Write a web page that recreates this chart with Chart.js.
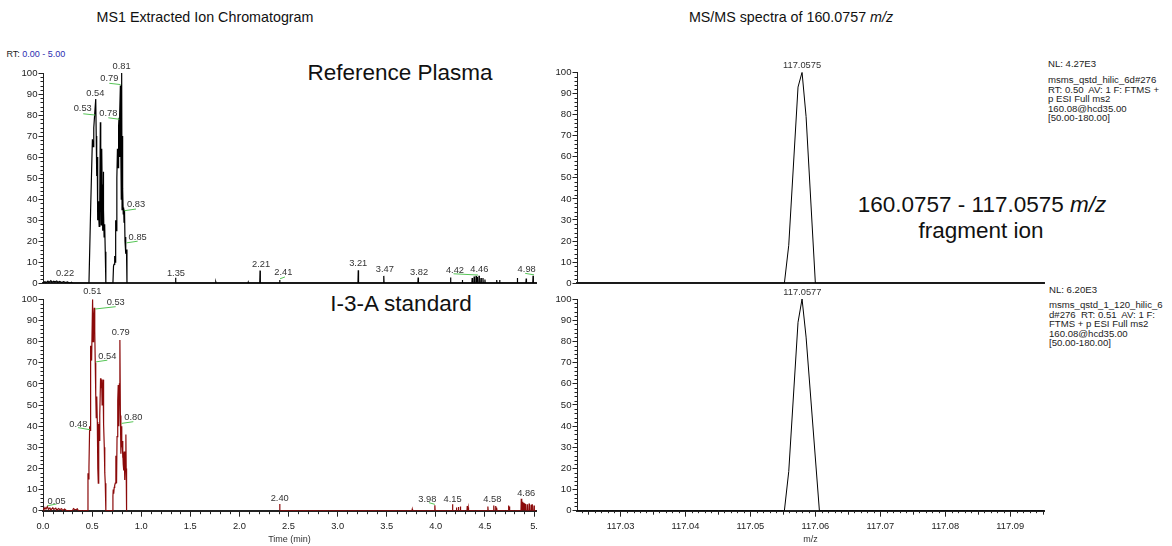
<!DOCTYPE html>
<html><head><meta charset="utf-8">
<script src="https://cdn.jsdelivr.net/npm/chart.js@4.4.1/dist/chart.umd.min.js"></script>
<style>
body{margin:0;width:1172px;height:546px;overflow:hidden;background:#fff;position:relative;font-family:"Liberation Sans",Arial,Helvetica,sans-serif}
canvas{position:absolute}
.t{position:absolute;white-space:nowrap;color:#111;line-height:1}
.c{transform:translate(-50%,-50%)}
.nl{position:absolute;white-space:nowrap;color:#222;font-size:9.6px;line-height:1;transform:translateY(-50%)}
</style></head><body>

<div class="t c" style="left:205px;top:17px;font-size:14.3px">MS1 Extracted Ion Chromatogram</div>
<div class="t c" style="left:791px;top:17px;font-size:14.3px">MS/MS spectra of 160.0757 <i>m/z</i></div>
<div class="t" style="left:6.5px;top:54px;font-size:9px;transform:translateY(-50%);color:#222">RT: <span style="color:#2b2bb0">0.00 - 5.00</span></div>
<div class="t c" style="left:400px;top:73px;font-size:22.5px">Reference Plasma</div>
<div class="t c" style="left:401px;top:304px;font-size:22.5px">I-3-A standard</div>
<div class="t c" style="left:982px;top:205px;font-size:22.5px">160.0757 - 117.0575 <i>m/z</i></div>
<div class="t c" style="left:981px;top:231px;font-size:22.5px">fragment ion</div>

<div class="nl" style="left:1048px;top:64px">NL: 4.27E3</div>
<div class="nl" style="left:1048px;top:80px">msms_qstd_hilic_6d#276</div>
<div class="nl" style="left:1048px;top:89.5px">RT: 0.50&nbsp; AV: 1 F: FTMS +</div>
<div class="nl" style="left:1048px;top:99px">p ESI Full ms2</div>
<div class="nl" style="left:1048px;top:108.5px">160.08@hcd35.00</div>
<div class="nl" style="left:1048px;top:118px">[50.00-180.00]</div>

<div class="nl" style="left:1049px;top:290px">NL: 6.20E3</div>
<div class="nl" style="left:1049px;top:305px">msms_qstd_1_120_hilic_6</div>
<div class="nl" style="left:1049px;top:314.5px">d#276&nbsp; RT: 0.51&nbsp; AV: 1 F:</div>
<div class="nl" style="left:1049px;top:324px">FTMS + p ESI Full ms2</div>
<div class="nl" style="left:1049px;top:333.5px">160.08@hcd35.00</div>
<div class="nl" style="left:1049px;top:343px">[50.00-180.00]</div>

<canvas id="tl" width="545" height="250" style="left:0;top:40px;width:545px;height:250px"></canvas>
<canvas id="bl" width="545" height="266" style="left:0;top:280px;width:545px;height:266px"></canvas>
<canvas id="tr" width="627" height="250" style="left:545px;top:40px;width:627px;height:250px"></canvas>
<canvas id="br" width="627" height="266" style="left:545px;top:280px;width:627px;height:266px"></canvas>

<script>
// ---------------- DATA ----------------
// Relative abundance ticks
const yTicks = [0,10,20,30,40,50,60,70,80,90,100];
// Retention-time axis
const timeTicks = [0,0.5,1,1.5,2,2.5,3,3.5,4,4.5,5];
const timeTickLabels = ['0.0','0.5','1.0','1.5','2.0','2.5','3.0','3.5','4.0','4.5','5.'];
// m/z axis
const mzTicks = [117.03,117.04,117.05,117.06,117.07,117.08,117.09];
const mzTickLabels = ['117.03','117.04','117.05','117.06','117.07','117.08','117.09'];

// Reference plasma XIC (time min, relative abundance %)
const plasmaTime = [0.00,0.02,0.03,0.05,0.06,0.08,0.09,0.11,0.12,0.14,0.15,0.17,0.19,0.21,0.23,0.25,0.27,0.29,0.30,
  0.468,0.485,0.503,0.510,0.517,0.527,0.537,0.542,0.547,0.552,0.557,0.562,0.566,0.572,0.578,0.584,0.588,0.592,0.596,0.600,
  0.604,0.608,0.611,0.614,0.618,0.622,0.628,0.634,0.640,
  0.712,0.718,0.723,0.730,0.735,0.740,0.745,0.752,0.758,0.765,0.770,0.774,0.778,0.783,0.788,0.793,0.797,0.801,0.805,0.809,
  0.813,0.817,0.821,0.825,0.830,0.835,0.840,0.845,0.850,0.855];
const plasmaInt = [0,0.8,0.3,1.0,0.4,1.2,0.5,1.0,0.6,1.1,0.4,0.9,0.3,0.8,0.3,0.6,0,0.5,0,
  0,35,68.5,65,74,81,87.6,70,51,60,30,39,33,27,40,76.6,45,27.7,45,64,
  40,25,47,53,35,22,28,15,0,
  0,8,9,13,10,30,25,50,64,55,75,78.7,60,80,94,60,40,100,35,70,
  45,33,36,29,35,20,22,14,16,0];
// Small late-eluting sticks (time, %)
const plasmaStickTime = [1.35,1.76,2.09,2.21,2.41,3.21,3.47,3.82,4.15,4.27,4.37,4.39,4.41,4.42,4.44,4.46,4.48,4.50,4.62,4.65,4.83,4.92,4.99];
const plasmaStickInt  = [2.6,0.5,0.5,6.0,1.5,6.2,3.5,2.7,2.7,1.5,2.5,3.2,3.5,3.0,3.6,2.5,2.5,1.8,1.5,1.5,2.5,2.2,3.6];

// I-3-A standard XIC
const stdTime = [0.00,0.01,0.02,0.03,0.045,0.055,0.07,0.08,0.10,0.11,0.13,0.14,0.16,0.17,0.19,0.20,0.22,0.24,0.30,0.31,0.33,0.35,0.36,
  0.452,0.458,0.463,0.468,0.475,0.480,0.485,0.490,0.495,0.505,0.510,0.515,0.522,0.527,0.532,0.537,0.542,0.546,0.549,0.553,0.556,
  0.560,0.563,0.566,0.569,0.573,0.576,0.580,0.586,0.590,0.597,0.602,0.607,0.611,0.614,0.620,0.624,0.627,0.631,0.634,0.640,
  0.708,0.712,0.715,0.720,0.725,0.730,0.736,0.742,0.746,0.749,0.754,0.759,0.763,0.766,0.770,0.773,0.778,0.783,0.788,0.793,
  0.797,0.800,0.804,0.807,0.811,0.814,0.817,0.820,0.824,0.827,0.831,0.834,0.839,0.844,0.847,0.851];
const stdInt = [1.2,0.5,1.5,0.8,2.0,0.6,1.3,0.4,1.4,0.6,1.2,0.3,1.0,0.5,0.9,0,0.8,0,0,1.0,0.3,0.9,0,
  0,17.7,15,20.8,40,38,78,74,71,100,80,90,96,85,70,55,44,50,54,42,36.6,
  20,13,30,41,38,33,45,62.6,58,62,50,55.5,62,50,41,30,23,18,13,0,
  0,7,10,8,11,12,13,26,20,13,35,46,52,59.5,45,40,60,80.8,45,27,
  35,40,30,33,25,28,22,19,25,28,20,14.5,25,36,20,0];
const stdStickTime = [2.41,3.76,3.99,4.17,4.21,4.23,4.25,4.32,4.33,4.53,4.59,4.61,4.62,4.74,4.75,4.87,4.88,4.89,4.90,4.91,4.93,4.95,4.97,4.98,5.00];
const stdStickInt  = [3.2,0.7,2.6,3.0,1.5,1.8,2.0,2.2,1.5,2.0,2.5,2.2,1.5,2.5,2.0,5.6,4.2,3.8,3.5,3.2,3.0,3.4,2.8,3.0,2.5];

// MS/MS profiles (m/z, %)
const msTopMz  = [117.0233,117.05523,117.0559,117.05733,117.05795,117.05857,117.0600,117.0952];
const msTopInt = [0,0,18,93,100,79,0,0];
const msBotMz  = [117.0233,117.05523,117.0559,117.05733,117.05795,117.05857,117.06062,117.0952];
const msBotInt = [0,0,18.5,89,100,82,0,0];

// Peak annotations: [text, x, y] and connector lines [x1,y1,x2,y2]
const plasmaLabels = [['0.81',0.80,103],['0.79',0.675,97.2],['0.54',0.533,90.4],['0.53',0.404,83],['0.78',0.665,81],
  ['0.83',0.947,37.6],['0.85',0.964,21.9],['0.22',0.224,4.6],['1.35',1.354,4.9],['2.21',2.22,8.9],['2.41',2.447,5],
  ['3.21',3.21,9.3],['3.47',3.48,6.5],['3.82',3.83,5.3],['4.42',4.195,6.2],['4.46',4.443,6.8],['4.98',4.925,6.8]];
const plasmaLinks = [[0.675,95.1,0.79,94.5],[0.41,80.6,0.53,80],[0.665,78.7,0.777,78],[0.828,34.5,0.947,35.3],
  [0.85,19.2,0.964,20],[2.413,2.1,2.464,3.0],[4.18,4.5,4.43,3.9],[4.91,4.7,5.0,4.0]];
const stdLabels = [['0.51',0.502,103.6],['0.53',0.74,98.4],['0.79',0.791,84.2],['0.54',0.655,73.2],['0.48',0.36,40.9],
  ['0.80',0.92,44],['0.05',0.139,4.6],['2.40',2.41,5.9],['3.98',3.913,5.1],['4.15',4.17,5.4],['4.58',4.575,5.4],['4.86',4.92,8.2]];
const stdLinks = [[0.53,95.4,0.74,96.5],[0.54,70.4,0.655,71.2],[0.357,39.3,0.478,38.3],[0.8,41.3,0.92,42.1],
  [0.044,2.3,0.14,3.2],[3.93,3.8,3.99,3.0]];
const msTopLabels = [['117.0575',117.05795,103.1]];
const msBotLabels = [['117.0577',117.05800,103.2]];

// ---------------- BUILD ----------------
Chart.defaults.font.family = '"Liberation Sans", Arial, Helvetica, sans-serif';
Chart.defaults.color = '#333';

const zip = (xs, ys) => xs.map((x,i)=>({x, y: ys[i]}));
const sticks = (ts, hs) => { const out=[]; ts.forEach((t,i)=>{ out.push({x:t-0.003,y:0},{x:t,y:hs[i]},{x:t+0.003,y:0}); }); return out; };

function range(a, b, step, skipEvery){ const out=[]; const n=Math.round((b-a)/step); for(let i=0;i<=n;i++){ if(skipEvery && i%skipEvery===0) continue; out.push(+(a+i*step).toFixed(6)); } return out; }

const annot = {
  id:'annot',
  afterDraw(chart, args, o){
    const ctx = chart.ctx, xs = chart.scales.x, ys = chart.scales.y;
    ctx.save();
    (o.minor||[]).forEach(m=>{
      const sc = chart.scales[m.axis];
      ctx.strokeStyle = '#222'; ctx.lineWidth = 1;
      ctx.beginPath();
      m.values.forEach(v=>{
        const p = Math.round(sc.getPixelForValue(v)) + 0.5;
        if (m.axis==='x'){ ctx.moveTo(p, sc.top); ctx.lineTo(p, sc.top + m.len); }
        else { ctx.moveTo(sc.right, p); ctx.lineTo(sc.right - m.len, p); }
      });
      ctx.stroke();
    });
    ctx.strokeStyle = '#55c455'; ctx.lineWidth = 1;
    (o.links||[]).forEach(l=>{
      ctx.beginPath();
      ctx.moveTo(xs.getPixelForValue(l[0]), ys.getPixelForValue(l[1]));
      ctx.lineTo(xs.getPixelForValue(l[2]), ys.getPixelForValue(l[3]));
      ctx.stroke();
    });
    ctx.fillStyle = '#333'; ctx.font = '9.3px "Liberation Sans", Arial, sans-serif';
    ctx.textAlign = 'center'; ctx.textBaseline = 'middle';
    (o.labels||[]).forEach(l=> ctx.fillText(l[0], xs.getPixelForValue(l[1]), ys.getPixelForValue(l[2])));
    ctx.restore();
  }
};

function yScale(width){
  return {
    type:'linear', min:0, max:100,
    afterBuildTicks: s => { s.ticks = yTicks.map(v=>({value:v})); },
    afterFit: s => { s.width = width; },
    ticks:{ autoSkip:false, font:{size:9.6}, color:'#222', padding:1, callback: v => String(v) },
    grid:{ display:true, drawOnChartArea:false, drawTicks:true, tickLength:4.5, color:'#222', lineWidth:1 },
    border:{ display:true, color:'#222', width:1 }
  };
}
function xTop(min, max){
  return { type:'linear', min, max, ticks:{display:false}, grid:{display:false},
    border:{display:true, color:'#222', width:2}, afterFit: s => { s.height = 0; } };
}
function xBottom(min, max, tv, tl, title){
  return {
    type:'linear', min, max,
    afterBuildTicks: s => { s.ticks = tv.map(v=>({value:v})); },
    afterFit: s => { s.height = 35.3; },
    ticks:{ autoSkip:false, maxRotation:0, font:{size:9.3}, color:'#222', padding:4,
      callback: (v) => { const i = tv.findIndex(t=>Math.abs(t-v)<1e-9); return i>=0 ? tl[i] : ''; } },
    grid:{ display:true, drawOnChartArea:false, drawTicks:true, tickLength:6, color:'#222', lineWidth:1 },
    border:{ display:true, color:'#222', width:2 },
    title:{ display:true, text:title, font:{size:9}, color:'#333', padding:{top:0,bottom:1} }
  };
}
function make(id, datasets, x, y, padding, ann){
  return new Chart(document.getElementById(id), {
    type:'line',
    data:{ datasets },
    options:{
      responsive:false, animation:false, events:[],
      layout:{ padding },
      parsing:true,
      elements:{ point:{ radius:0 }, line:{ tension:0 } },
      scales:{ x, y },
      plugins:{ legend:{display:false}, tooltip:{enabled:false}, annot: ann }
    },
    plugins:[annot]
  });
}

const yMinor = range(0, 100, 2, 5);
const tMinor = range(0, 5, 0.1, 5);
const mzMinor = range(117.024, 117.095, 0.001, 0).filter(v => Math.abs(v*1000 - Math.round(v*100)*10) > 1e-6);
const mzMid = [117.025,117.035,117.045,117.055,117.065,117.075,117.085,117.095];

const black = '#000', red = '#8b0a0a';

make('tl', [
  { data: zip(plasmaTime, plasmaInt), borderColor: black, borderWidth: 1.2, fill:false },
  { data: sticks(plasmaStickTime, plasmaStickInt).concat([{x:5.02,y:0}]), borderColor: black, borderWidth: 1.2, fill:false }
], xTop(0, 5.02), yScale(43), {left:0, right:9, top:33, bottom:4.5},
  { labels: plasmaLabels, links: plasmaLinks, minor:[{axis:'y', values:yMinor, len:2.5}] });

make('bl', [
  { data: zip(stdTime, stdInt), borderColor: red, borderWidth: 1.2, fill:false },
  { data: sticks(stdStickTime, stdStickInt).concat([{x:5.02,y:0}]), borderColor: red, borderWidth: 1.2, fill:false }
], xBottom(0, 5.02, timeTicks, timeTickLabels, 'Time (min)'), yScale(43), {left:0, right:9, top:19.3, bottom:0},
  { labels: stdLabels, links: stdLinks, minor:[{axis:'y', values:yMinor, len:2.5},{axis:'x', values:tMinor, len:3.5}] });

make('tr', [
  { data: zip(msTopMz, msTopInt), borderColor: black, borderWidth: 1, fill:false }
], xTop(117.0233, 117.0952), yScale(32), {left:0, right:128, top:32.3, bottom:5},
  { labels: msTopLabels, links: [], minor:[{axis:'y', values:yMinor, len:2.5}] });

make('br', [
  { data: zip(msBotMz, msBotInt), borderColor: black, borderWidth: 1, fill:false }
], xBottom(117.0233, 117.0952, mzTicks, mzTickLabels, 'm/z'), yScale(32), {left:0, right:128, top:19, bottom:0},
  { labels: msBotLabels, links: [], minor:[{axis:'y', values:yMinor, len:2.5},{axis:'x', values:mzMinor, len:2.5},{axis:'x', values:mzMid, len:4}] });
</script>
</body></html>
